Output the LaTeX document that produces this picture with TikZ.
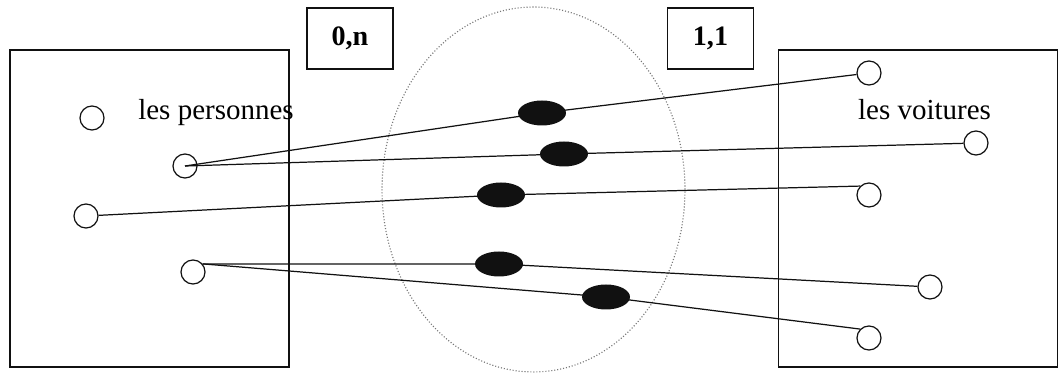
\documentclass[tikz,border=0pt]{standalone}
\usepackage{fontspec}
\setmainfont{Liberation Serif}
\usetikzlibrary{shapes.geometric}
\definecolor{ink}{HTML}{111111}
\definecolor{dots}{HTML}{777777}
\tikzset{
  set/.style={draw=ink, line width=0.85pt, rectangle, minimum width=5.58cm, minimum height=6.34cm, inner sep=0pt},
  card/.style={draw=ink, line width=0.9pt, rectangle, minimum width=1.72cm, minimum height=1.22cm,
               inner sep=0pt, font=\fontsize{16}{18}\selectfont\bfseries},
  elem/.style={draw=ink, line width=0.7pt, circle, minimum size=0.48cm, inner sep=0pt},
  rel/.style={draw=dots, line width=0.65pt, dash pattern=on 0.6pt off 1.1pt, ellipse,
              minimum width=6.06cm, minimum height=7.3cm, inner sep=0pt},
  blob/.style={fill=ink, ellipse, minimum width=0.96cm, minimum height=0.5cm, inner sep=0pt},
  lnk/.style={draw=ink, line width=0.7pt},
  setlbl/.style={anchor=base, inner sep=0pt, font=\fontsize{16.5}{18}\selectfont},
}
\begin{document}
\begin{tikzpicture}[x=0.02cm, y=-0.02cm]
  \useasboundingbox (0,0) rectangle (1059,374);
  % the two sets and the relation
  \node[set] (pers) at (149.5,208.5) {};
  \node[set] (voit) at (918,208.5) {};
  \node[rel] (rel) at (533.5,189.5) {};
  \node[card] (c0n) at (350,38.5) {0,n};
  \node[card] (c11) at (710.5,38.5) {1,1};
  \node[setlbl] (lp) at (216,120) {les personnes};
  \node[setlbl] (lv) at (924.5,120) {les voitures};
  % persons
  \node[elem] (p1) at (92,118)  {};
  \node[elem] (p2) at (185,166) {};
  \node[elem] (p3) at (86,216)  {};
  \node[elem] (p4) at (193,272) {};
  % cars
  \node[elem] (v1) at (869,73)  {};
  \node[elem] (v2) at (976,143) {};
  \node[elem] (v3) at (869,195) {};
  \node[elem] (v4) at (930,287) {};
  \node[elem] (v5) at (869,338) {};
  % occurrences of the relation
  \node[blob] (o1) at (542,113) {};
  \node[blob] (o2) at (564,154) {};
  \node[blob] (o3) at (501,195) {};
  \node[blob] (o4) at (499,264) {};
  \node[blob] (o5) at (606,297) {};
  % links
  \draw[lnk] (p2.center) -- (o1.center) -- (v1);
  \draw[lnk] (p2.center) -- (o2.center) -- (v2);
  \draw[lnk] (p3) -- (o3.center) -- (v3.135);
  \draw[lnk] (p4.40) -- (o4.center) -- (v4);
  \draw[lnk] (p4.40) -- (o5.center) -- (v5.135);
\end{tikzpicture}
\end{document}
